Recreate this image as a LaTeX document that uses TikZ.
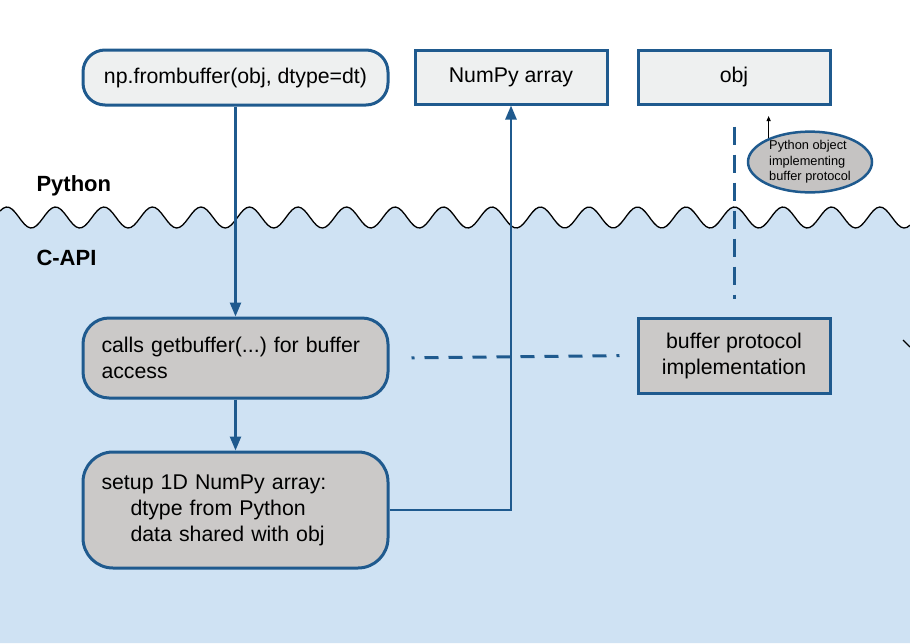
\documentclass[tikz,border=0pt]{standalone}
\usepackage{fontspec}
\setmainfont{Liberation Sans}
\usetikzlibrary{arrows.meta,calc,shapes.geometric}
\definecolor{seablue}{HTML}{CFE2F3}
\definecolor{edgeblue}{HTML}{1F5A8E}
\definecolor{paleface}{HTML}{EEF0F0}
\definecolor{stonegray}{HTML}{CBC9C8}
\frenchspacing

\begin{document}
\begin{tikzpicture}[x=1pt,y=-1pt,
    every node/.style={font=\fontsize{21.3}{26}\selectfont},
    topbox/.style={draw=edgeblue,line width=3pt,fill=paleface,minimum width=192pt,minimum height=54pt},
    roundbox/.style={draw=edgeblue,line width=3pt,fill=stonegray,minimum width=305pt,rounded corners=26pt,
        text width=268pt,align=left,inner xsep=18pt},
    flow/.style={draw=edgeblue,line width=2.5pt,-{Triangle[width=11pt,length=14pt]}},
    link/.style={draw=edgeblue,line width=3pt}]

			\useasboundingbox (0,0) rectangle (910,643);
			% sea below the surface
			\fill[seablue] plot[domain=0:910,samples=300] (\x,{217.5-10.5*cos(7.4227*(\x-7))}) -- (910,643) -- (0,643) -- cycle;
			\draw[black,line width=1.3pt] plot[domain=0:910,samples=300] (\x,{217.5-10.5*cos(7.4227*(\x-7))});

			\node[anchor=west,font=\fontsize{22}{26}\selectfont\bfseries] (pylabel) at (33,186) {Python};
			\node[anchor=west,font=\fontsize{22}{26}\selectfont\bfseries] (clabel) at (33,258) {C-API};

			% python side
			\node[topbox,minimum width=305pt,minimum height=55pt,rounded corners=22pt] (frombuf) at (235.5,77.5) {np.frombuffer(obj, dtype=dt)};
			\node[topbox] (numpy) at (511,77) {NumPy array};
			\node[topbox] (obj) at (734,77) {obj};
			\node[ellipse,draw=edgeblue,line width=2.5pt,fill=stonegray!97!black,minimum width=124pt,minimum height=60pt,
				inner sep=0pt,align=left,font=\fontsize{12.8}{15.5}\selectfont] (pyobj) at (810,162)
				{Python object\\implementing\\buffer protocol};
			\coordinate (hinttip) at (770,116);
			\draw[black,line width=1pt,-{Triangle[width=4pt,length=5pt]}] (pyobj.150) -- (pyobj.150 |- hinttip);

			% C side
			\node[roundbox,minimum height=80pt] (calls) at (235.5,358) {calls getbuffer(...) for buffer access};
			\node[roundbox,minimum height=116pt,rounded corners=30pt] (setup) at (235.5,510)
				{setup 1D NumPy array:\\\hspace*{29pt}dtype from Python\\\hspace*{29pt}data shared with obj};
			\node[draw=edgeblue,line width=3pt,fill=stonegray,minimum width=192pt,minimum height=75pt,align=center] (bufimpl) at (734,355.5)
				{buffer protocol\\implementation};

			\draw[flow] (frombuf.south) -- (calls.north);
			\draw[flow] (calls.south) -- (setup.north);
			\draw[flow] (setup.east) -| (numpy.south);
			\draw[link,dash pattern=on 3pt off 10pt on 14pt off 10pt on 14pt off 10pt on 14pt off 10pt on 14pt off 10pt on 14pt off 10pt on 14pt off 10pt on 14pt off 10pt on 14pt off 10pt,
				shorten <=22pt,shorten >=10pt] (calls.east) -- (bufimpl.west);
			\draw[link,dash pattern=on 18pt off 10pt,shorten <=21pt,shorten >=18pt] (obj.south) -- (bufimpl.north);

			\coordinate (edgea) at (903,340);
			\coordinate (edgeb) at (910,347);
			\draw[black,line width=1.2pt] (edgea) -- (edgeb);

		\end{tikzpicture}
\end{document}
